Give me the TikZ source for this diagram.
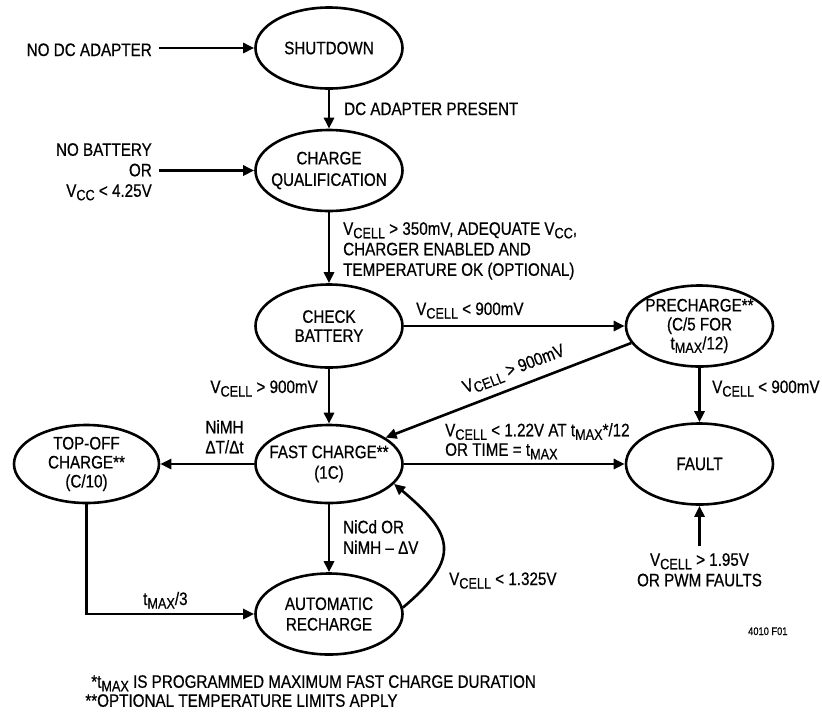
\documentclass[tikz,border=0pt]{standalone}
\usepackage{fontspec}
\setmainfont{Liberation Sans}[FakeStretch=0.845, FakeBold=0.6]
\usetikzlibrary{shapes.geometric, arrows.meta}

\newcommand{\lowsub}[1]{\raisebox{-3.5pt}{\fontsize{15}{15}\selectfont #1}}
\newcommand{\vcell}{V\lowsub{CELL}}
\newcommand{\tmax}{t\lowsub{MAX}}

\begin{document}
\begin{tikzpicture}[x = 1pt, y = 1pt,
						font = \fontsize{18}{20.5}\selectfont,
						state ellipse/.style={draw, ellipse, line width = 2.6pt, minimum width = 147pt,
							minimum height = 81pt, inner sep = -9pt, align = center},
						flow arrow/.style={line width = 2.6pt, -{Triangle[length = 11pt, width = 10pt]}},
						cond label/.style={inner sep = 0pt},
						]
	
		\useasboundingbox (0, 0) rectangle (822, -713);
		
		% States
		\node[state ellipse] (shutdown) at (329, -48) {SHUTDOWN};
		\node[state ellipse] (chargeQual) at (329, -170.5) {CHARGE\\[1pt]QUALIFICATION};
		\node[state ellipse, minimum height = 83pt] (checkBattery) at (329, -326) {CHECK\\[-1.5pt]BATTERY};
		\node[state ellipse] (preCharge) at (699.5, -326) {PRECHARGE**\\[-1.5pt](C/5 FOR\\[-1.5pt]\tmax/12)};
		\node[state ellipse, minimum height = 78pt] (fastCharge) at (329, -464) {FAST CHARGE**\\(1C)};
		\node[state ellipse] (fault) at (699.5, -464) {FAULT};
		\node[state ellipse, minimum width = 145pt, minimum height = 78pt] (topOff) at (86.5, -464) {TOP-OFF\\[-1.5pt]CHARGE**\\[-1.5pt](C/10)};
		\node[state ellipse] (autoRecharge) at (329, -614) {AUTOMATIC\\RECHARGE};
		
		% Outside conditions
		\node[cond label, anchor = base east] (noAdapter) at (152, -56) {NO DC ADAPTER};
		\node[cond label, align = right, anchor = north east] (noBattery) at (152, -143) {NO BATTERY\\OR\\V\lowsub{CC} < 4.25V};
		\node[cond label, align = center, anchor = north] (pwmFault) at (699.5, -553) {\vcell{} > 1.95V\\OR PWM FAULTS};
		
		% Transition labels
		\node[cond label, anchor = base west] (dcPresent) at (344, -115) {DC ADAPTER PRESENT};
		\node[cond label, align = left, anchor = north west] (qualOk) at (343, -222) {\vcell{} > 350mV, ADEQUATE V\lowsub{CC},\\CHARGER ENABLED AND\\TEMPERATURE OK (OPTIONAL)};
		\node[cond label, anchor = base west] (lowCheck) at (416, -315) {\vcell{} < 900mV};
		\node[cond label, anchor = base east] (highCheck) at (318, -393) {\vcell{} > 900mV};
		\node[cond label, rotate = 20.8] (highPre) at (514, -370) {\vcell{} > 900mV};
		\node[cond label, anchor = base west] (lowPre) at (712, -393) {\vcell{} < 900mV};
		\node[cond label, align = left, anchor = north west] (fastFault) at (445, -423) {\vcell{} < 1.22V AT \tmax*/12\\[-1pt]OR TIME = \tmax};
		\node[cond label, align = center, anchor = north] (nimhSlope) at (224.5, -420) {NiMH\\[-0.5pt]ΔT/Δt};
		\node[cond label, align = left, anchor = north west] (nicdDrop) at (343, -520) {NiCd OR\\NiMH – ΔV};
		\node[cond label, anchor = base west] (rechargeCond) at (449, -585) {\vcell{} < 1.325V};
		\node[cond label, anchor = base west] (topOffTime) at (143, -605) {\tmax/3};
		
		% Figure number and notes
		\node[cond label, anchor = base west, font = \fontsize{11}{11}\selectfont] (figId) at (748, -635) {4010 F01};
		\node[cond label, align = left, anchor = north west] (notes) at (97, -675) {\llap{*}\tmax{} IS PROGRAMMED MAXIMUM FAST CHARGE DURATION\\[-1.5pt]\llap{**}OPTIONAL TEMPERATURE LIMITS APPLY};
		
		% Transitions
		\draw[flow arrow, shorten <= 7pt] (noAdapter.east |- shutdown.west) -- (shutdown.west);
		\draw[flow arrow] (shutdown) -- (chargeQual);
		\draw[flow arrow, shorten <= 7pt] (noBattery.east |- chargeQual.west) -- (chargeQual.west);
		\draw[flow arrow] (chargeQual) -- (checkBattery);
		\draw[flow arrow] (checkBattery) -- (preCharge);
		\draw[flow arrow] (checkBattery) -- (fastCharge);
		\draw[flow arrow] (preCharge.194) -- (fastCharge.25.6);
		\draw[flow arrow] (preCharge) -- (fault);
		\draw[flow arrow] (fastCharge) -- (fault);
		\draw[flow arrow] (fastCharge) -- (topOff);
		\draw[flow arrow] (fastCharge) -- (autoRecharge);
		\draw[flow arrow] (topOff.south) |- (autoRecharge.west);
		\draw[flow arrow] (autoRecharge.5) to[out = 40, in = -40, looseness = 1.6] (fastCharge.-17);
		\draw[flow arrow, shorten <= 7pt] (pwmFault.north) -- (fault);
		
	\end{tikzpicture}
\end{document}
